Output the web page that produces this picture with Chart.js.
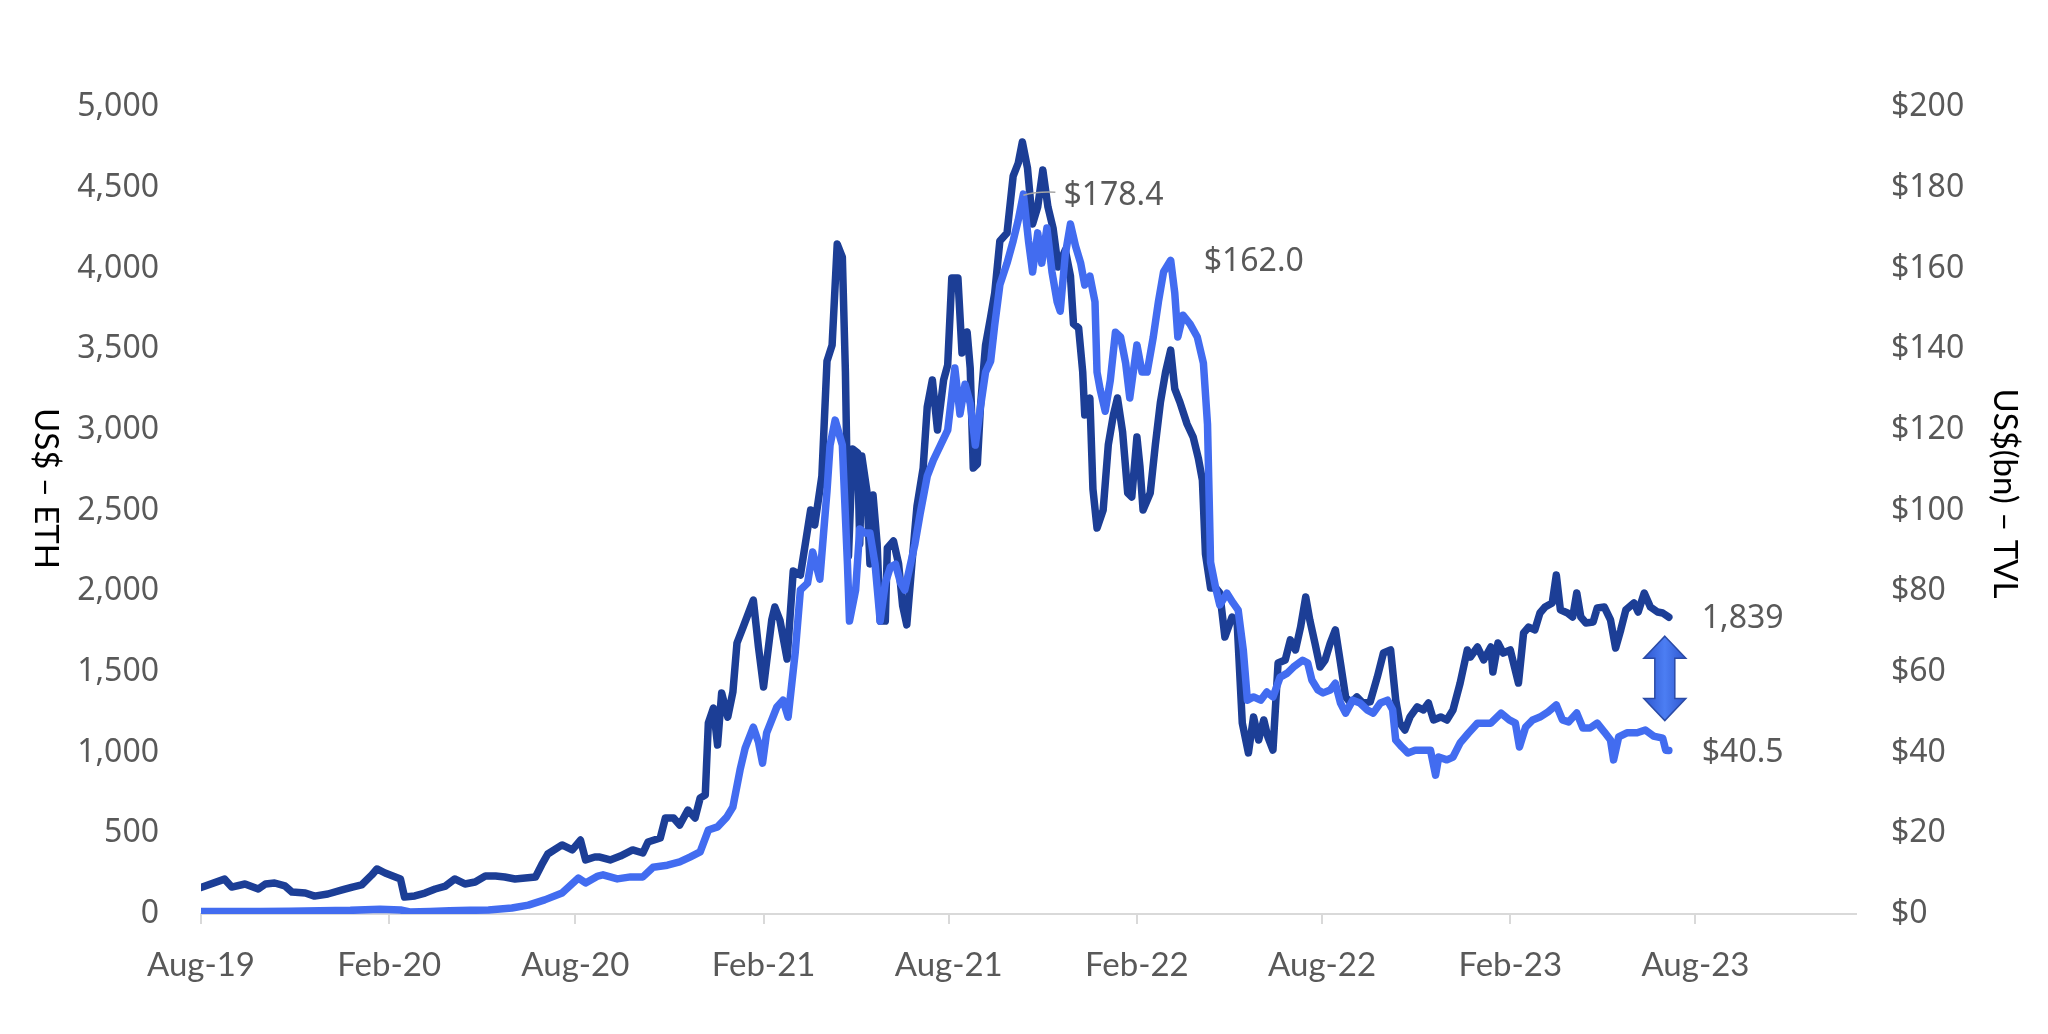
<!DOCTYPE html>
<html>
<head>
    <meta charset="utf-8">
    <title>ETH price vs DeFi TVL</title>
    <script src="https://cdn.jsdelivr.net/npm/chart.js@4.4.0/dist/chart.umd.min.js"></script>
    <style>
        html, body { margin: 0; padding: 0; background: #ffffff; }
        #wrap { width: 2048px; height: 1034px; }
    </style>
</head>
<body>
    <div id="wrap"><canvas id="ethTvlChart" width="2048" height="1034"></canvas></div>

    <script>
        // x values are days counted from 20 Aug 2019 (axis start)
        const startDate = '2019-08-20';
        const axisEndDate = '2024-01-24';
        const tickDates = ['2019-08-20', '2020-02-20', '2020-08-20', '2021-02-20', '2021-08-20',
                           '2022-02-20', '2022-08-20', '2023-02-20', '2023-08-20'];
        const tickLabels = ['Aug-19', 'Feb-20', 'Aug-20', 'Feb-21', 'Aug-21', 'Feb-22', 'Aug-22', 'Feb-23', 'Aug-23'];

        // ETH price, US$ (left axis)
        const ethDays = [0,23,30,43,56,63,72,82,89,102,111,124,138,148,157,167,172,180,190,195,199,209,219,229,239,248,258,268,278,288,297,307,317,327,333,339,353,363,371,376,385,
            390,400,410,422,432,437,449,454,462,468,476,483,488,493,496,501,505,509,515,520,524,530,540,545,550,558,561,
            566,573,579,586,596,600,607,612,617,622,627,630,633,637,642,644,646,651,654,657,661,664,669,671,677,682,686,690,695,700,706,710,715,720,726,730,734,740,744,749,752,755,759,762,767,
            772,776,781,788,794,799,803,808,813,818,823,828,833,838,845,850,853,858,862,864,869,872,876,882,887,892,896,901,906,910,915,918,921,928,933,938,943,948,952,957,964,970,975,979,982,987,992,
            996,1001,1008,1013,1018,1024,1029,1034,1039,1043,1048,1053,1060,1065,1070,1075,1080,1084,1089,1094,1099,1104,1109,1114,1119,1124,1130,1136,1143,1150,1156,1163,1168,1172,1177,1182,1189,1195,1200,1205,1212,1218,1224,1231,1238,
            1241,1248,1254,1261,1263,1268,1273,1280,1288,1293,1298,1304,1309,1314,1321,1325,1329,1336,1341,1345,1349,1354,1361,1365,1372,1378,1383,1388,1393,1401,1405,1411,1417,1424,1429,1435];
        const ethPrice = [165,216,167,186,155,186,192,174,136,130,111,124,149,167,180,242,279,254,229,217,105,112,130,155,173,217,186,198,235,235,229,217,223,229,304,372,428,397,458,335,353,
            353,335,359,397,378,446,471,595,595,551,644,595,719,737,1183,1276,1047,1369,1220,1375,1679,1778,1945,1654,1407,1822,1902,
            1820,1580,2125,2100,2503,2410,2714,3426,3525,4151,4070,3358,2218,2881,2856,2293,2838,2621,2169,2596,2293,1815,1815,2268,2311,2169,1908,1791,2169,2528,2763,3141,3309,2999,3309,3402,3941,3941,3476,3606,3383,2763,2788,3141,3525,
            3700,3848,4170,4219,4572,4653,4783,4622,4275,4381,4610,4381,4250,4009,4114,3953,3656,3631,3358,3092,3197,2633,2391,2503,2906,3092,3197,2986,2608,2584,2955,2770,2503,2608,2906,3172,3358,3494,3253,3172,3036,2955,2825,2689,2231,2020,2020,
            1989,1716,1840,1803,1183,998,1221,1078,1202,1097,1016,1555,1574,1698,1636,1778,1964,1822,1679,1530,1574,1679,1760,1555,1345,1307,1345,1307,1314,1468,1617,1636,1326,1183,1140,1221,1283,1264,1307,1202,1221,1202,1264,1431,1636,
            1592,1654,1574,1654,1499,1679,1617,1636,1431,1741,1778,1760,1865,1902,1927,2100,1884,1865,1840,1989,1840,1803,1809,1896,1902,1822,1648,1760,1884,1927,1871,1989,1902,1871,1865,1839];

        // total value locked, US$ bn (right axis)
        const tvlDays = [0,28,58,87,116,146,175,195,204,224,243,263,281,304,320,336,353,369,376,388,
            393,407,420,432,442,456,468,478,488,496,505,514,520,527,532,540,545,549,553,563,569,574,
            581,586,593,598,605,612,615,620,627,632,634,640,644,649,654,659,664,669,674,679,684,688,693,698,703,710,716,723,730,734,737,742,747,752,757,762,767,
            772,776,781,788,794,799,804,809,813,818,822,827,832,837,840,845,850,855,860,864,869,874,876,879,884,889,894,899,904,908,915,920,925,931,936,941,948,952,955,960,967,974,980,984,987,992,
            996,1003,1009,1014,1019,1023,1029,1036,1042,1048,1055,1062,1068,1077,1082,1086,1092,1097,1104,1109,1114,1119,1126,1133,1140,1146,1153,1160,1165,1168,1174,1180,1187,1195,1202,1207,1210,1218,1224,1231,1239,
            1248,1261,1271,1279,1285,1289,1295,1302,1309,1317,1325,1331,1337,1345,1351,1358,1365,1372,1378,1381,1386,1394,1404,1412,1420,1429,1432,1435];
        const tvlValue = [0.6,0.6,0.6,0.7,0.8,0.9,1.2,1.0,0.5,0.6,0.8,0.9,1.0,1.5,2.2,3.5,5.2,8.9,7.7,9.4,
            9.7,8.7,9.2,9.2,11.6,12.1,12.9,14.1,15.4,20.8,21.6,24.0,26.5,35.7,41.1,46.3,42.6,37.4,44.9,51.3,53.0,48.8,
            65.0,80.3,82.0,89.7,83.0,104.8,116.2,122.4,116.2,86.7,72.6,80.3,95.4,94.4,94.4,86.7,72.6,82.0,86.0,86.7,82.0,80.3,86.0,91.7,99.1,108.5,112.5,116.2,119.9,128.6,135.3,123.9,131.3,126.6,116.2,125.6,134.3,
            137.0,146.0,155.9,161.3,166.8,172.0,178.4,166.8,159.1,168.8,161.3,170.0,159.1,151.7,149.4,163.5,171.0,165.5,161.3,155.9,158.1,151.7,134.3,130.1,124.6,132.3,144.2,143.0,136.5,127.9,141.0,134.3,134.3,143.0,151.7,159.1,162.0,153.9,143.0,148.4,146.2,143.0,136.5,121.4,87.2,80.8,
            76.6,79.5,77.1,75.3,65.4,53.0,53.8,53.0,55.0,53.8,58.7,59.7,61.2,62.9,62.2,58.0,55.5,54.8,55.5,57.2,52.3,49.8,53.0,52.3,50.6,49.8,52.3,53.0,50.6,43.1,41.4,39.9,40.6,40.6,40.6,34.4,38.9,38.2,38.9,42.4,44.8,
            47.3,47.3,49.8,48.1,47.3,41.4,46.3,48.1,48.8,50.1,51.8,48.1,47.6,49.8,46.1,46.1,47.3,45.1,43.1,38.2,43.9,44.9,44.9,45.6,44.1,43.6,40.6,40.5];

        // text callouts on the lines
        const callouts = [
            { text: '$178.4', axis: 'yTvl', day: 804, value: 178.4, leader: true },
            { text: '$162.0', axis: 'yTvl', day: 948, value: 162.0 },
            { text: '1,839', axis: 'yEth', day: 1435, value: 1839 },
            { text: '$40.5', axis: 'yTvl', day: 1435, value: 40.5 }
        ];

        function dayOf(s) {
            return Math.round((Date.parse(s) - Date.parse(startDate)) / 86400000);
        }
        const tickDays = tickDates.map(dayOf);
        const axisMaxDay = dayOf(axisEndDate);

        function toPoints(xs, ys) {
            return xs.map((x, i) => ({ x: x, y: ys[i] }));
        }

        const tickColor = '#595959';
        const numFont = { family: "'Noto Sans', sans-serif", size: 32 };

        const axisTitlePlugin = {
            id: 'axisTitles',
            afterDraw(chart) {
                const ctx = chart.ctx;
                const area = chart.chartArea;
                const mid = (area.top + area.bottom) / 2;
                ctx.save();
                ctx.fillStyle = '#000000';
                ctx.font = "33px Lato, sans-serif";
                ctx.textAlign = 'center';
                ctx.textBaseline = 'middle';
                [['US$ \u2013 ETH', area.left - 155, mid - 22],
                 ['US$(bn) \u2013 TVL', area.right + 149, mid - 17]].forEach(t => {
                    ctx.save();
                    ctx.translate(t[1], t[2]);
                    ctx.rotate(Math.PI / 2);
                    ctx.fillText(t[0], 0, 0);
                    ctx.restore();
                });
                ctx.restore();
            }
        };

        const calloutPlugin = {
            id: 'callouts',
            afterDatasetsDraw(chart) {
                const ctx = chart.ctx;
                const xs = chart.scales.x;
                ctx.save();
                ctx.font = numFont.size + 'px ' + numFont.family;
                ctx.fillStyle = tickColor;
                ctx.textAlign = 'left';
                ctx.textBaseline = 'middle';
                callouts.forEach(c => {
                    const px = xs.getPixelForValue(c.day);
                    const py = chart.scales[c.axis].getPixelForValue(c.value);
                    const tx = px + (c.leader ? 40 : 33);
                    if (c.leader) {
                        ctx.strokeStyle = '#A6A6A6';
                        ctx.lineWidth = 1.5;
                        ctx.beginPath();
                        ctx.moveTo(px, py + 1);
                        ctx.quadraticCurveTo(px + 14, py - 3, tx - 8, py - 2);
                        ctx.stroke();
                    }
                    ctx.fillText(c.text, tx, py + 2);
                });

                // double arrow between the two line ends
                const last = ethDays.length - 1;
                const cx = xs.getPixelForValue(ethDays[last]) - 4;
                const top = chart.scales.yEth.getPixelForValue(ethPrice[last]) + 19;
                const bottom = chart.scales.yTvl.getPixelForValue(tvlValue[tvlValue.length - 1]) - 30;
                const headH = 22, headW = 21, shaftW = 10;
                const grad = ctx.createLinearGradient(cx - headW, 0, cx + headW, 0);
                grad.addColorStop(0, '#2F57CF');
                grad.addColorStop(0.5, '#4C7EF3');
                grad.addColorStop(1, '#2F57CF');
                ctx.beginPath();
                ctx.moveTo(cx, top);
                ctx.lineTo(cx + headW, top + headH);
                ctx.lineTo(cx + shaftW, top + headH);
                ctx.lineTo(cx + shaftW, bottom - headH);
                ctx.lineTo(cx + headW, bottom - headH);
                ctx.lineTo(cx, bottom);
                ctx.lineTo(cx - headW, bottom - headH);
                ctx.lineTo(cx - shaftW, bottom - headH);
                ctx.lineTo(cx - shaftW, top + headH);
                ctx.lineTo(cx - headW, top + headH);
                ctx.closePath();
                ctx.fillStyle = grad;
                ctx.fill();
                ctx.strokeStyle = '#2B4BA6';
                ctx.lineWidth = 1.5;
                ctx.stroke();
                ctx.restore();
            }
        };

        const ctx = document.getElementById('ethTvlChart').getContext('2d');
        const chart = new Chart(ctx, {
            type: 'line',
            data: {
                datasets: [{
                    label: 'TVL',
                    data: toPoints(tvlDays, tvlValue),
                    yAxisID: 'yTvl',
                    borderColor: '#426CF0',
                    borderWidth: 7.5,
                    order: 0
                }, {
                    label: 'ETH',
                    data: toPoints(ethDays, ethPrice),
                    yAxisID: 'yEth',
                    borderColor: '#1C3E96',
                    borderWidth: 7.5,
                    order: 1
                }]
            },
            options: {
                responsive: false,
                animation: false,
                devicePixelRatio: 1,
                parsing: false,
                layout: { padding: { top: 107, left: 0, right: 0, bottom: 0 } },
                elements: {
                    point: { radius: 0 },
                    line: { tension: 0, borderJoinStyle: 'round', borderCapStyle: 'round', fill: false }
                },
                plugins: {
                    legend: { display: false },
                    tooltip: { enabled: false }
                },
                scales: {
                    x: {
                        type: 'linear',
                        min: 0,
                        max: axisMaxDay,
                        afterBuildTicks: s => { s.ticks = tickDays.map(v => ({ value: v })); },
                        afterFit: s => { s.height = 120; },
                        grid: { display: true, drawOnChartArea: false, drawTicks: true, tickLength: 10, color: '#D9D9D9', lineWidth: 2 },
                        border: { display: true, color: '#D9D9D9', width: 2 },
                        ticks: {
                            autoSkip: false,
                            maxRotation: 0,
                            padding: 22,
                            color: tickColor,
                            font: { family: 'Lato, sans-serif', size: 33 },
                            callback: (v, i) => tickLabels[i]
                        }
                    },
                    yEth: {
                        position: 'left',
                        min: 0,
                        max: 5000,
                        afterFit: s => { s.width = 201; },
                        grid: { display: false },
                        border: { display: false },
                        ticks: {
                            stepSize: 500,
                            padding: 34,
                            color: tickColor,
                            font: numFont,
                            callback: v => v.toLocaleString('en-US')
                        }
                    },
                    yTvl: {
                        position: 'right',
                        min: 0,
                        max: 200,
                        afterFit: s => { s.width = 192; },
                        grid: { display: false },
                        border: { display: false },
                        ticks: {
                            stepSize: 20,
                            padding: 27,
                            color: tickColor,
                            font: numFont,
                            callback: v => '$' + v
                        }
                    }
                }
            },
            plugins: [axisTitlePlugin, calloutPlugin]
        });
    </script>
</body>
</html>
